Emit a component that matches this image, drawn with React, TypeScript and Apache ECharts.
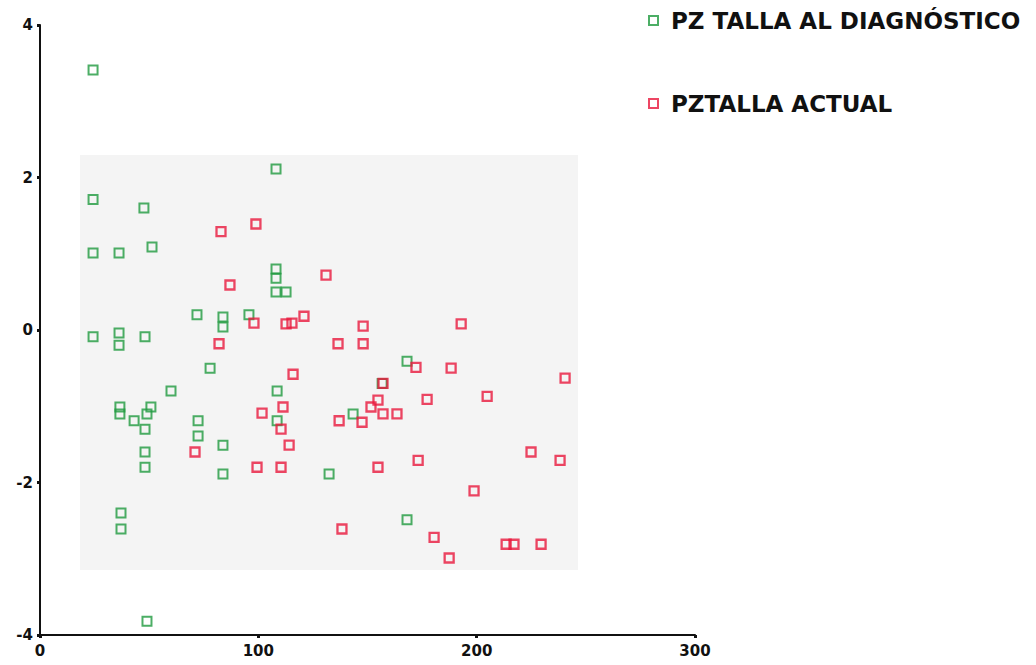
import React, { useEffect, useRef } from "react";
import * as echarts from "echarts";

const seriesNames = ["PZ TALLA AL DIAGNÓSTICO", "PZTALLA ACTUAL"];

const diagX = [24.3, 24.3, 24.3, 24.3, 36.2, 36.2, 36.2, 47.6, 51.3, 48.1, 36.6, 36.6, 43.1, 48.1, 49.0, 50.8, 48.1, 48.1, 37.1, 37.1, 49.0, 60.0, 71.9, 72.4, 72.4, 77.9, 83.8, 83.8, 83.8, 83.8, 95.7, 108.1, 108.1, 108.1, 108.1, 112.7, 108.6, 108.6, 143.4, 132.4, 156.7, 168.1, 168.1];
const diagY = [3.41, 1.71, 1.01, -0.09, 1.01, -0.04, -0.2, 1.6, 1.09, -0.09, -1.01, -1.1, -1.19, -1.3, -1.1, -1.01, -1.6, -1.8, -2.4, -2.61, -3.82, -0.8, 0.2, -1.19, -1.39, -0.5, 0.17, 0.04, -1.51, -1.89, 0.2, 2.11, 0.8, 0.68, 0.5, 0.5, -0.8, -1.19, -1.1, -1.89, -0.7, -0.41, -2.49];

const actualX = [82.9, 98.9, 87.0, 131.0, 120.9, 98.0, 112.7, 115.4, 82.0, 136.5, 148.0, 148.0, 115.9, 157.1, 154.8, 151.6, 157.1, 163.5, 101.7, 111.3, 110.4, 137.0, 147.5, 114.1, 192.9, 172.2, 188.3, 240.5, 177.3, 204.8, 154.8, 173.2, 224.9, 238.2, 198.8, 138.3, 180.5, 187.4, 213.5, 217.1, 229.5, 71.0, 99.4, 110.4];
const actualY = [1.29, 1.39, 0.59, 0.72, 0.18, 0.09, 0.08, 0.09, -0.18, -0.18, 0.05, -0.18, -0.58, -0.7, -0.92, -1.01, -1.1, -1.1, -1.09, -1.01, -1.3, -1.19, -1.21, -1.51, 0.08, -0.49, -0.5, -0.63, -0.91, -0.87, -1.8, -1.71, -1.6, -1.71, -2.11, -2.61, -2.72, -2.99, -2.81, -2.81, -2.81, -1.6, -1.8, -1.8];

const xTicks = [0, 100, 200, 300];
const yTicks = [-4, -2, 0, 2, 4];

const GREEN = "#1f9a3e";
const RED = "#e8183c";
const FONT = "'DejaVu Sans', 'Liberation Sans', Arial, sans-serif";

export default function App() {
  const ref = useRef<HTMLDivElement>(null);
  useEffect(() => {
    if (!ref.current) return;
    const chart = echarts.init(ref.current, null, { renderer: "svg" });
    const pair = (xs: number[], ys: number[]) => xs.map((x, i) => [x, ys[i]]);
    const axisLabel = { color: "#111", fontFamily: FONT, fontWeight: "bold" as const, fontSize: 15 };
    const legendText = {
      fontFamily: FONT,
      fontWeight: "bold" as const,
      fontSize: 23,
      color: "#111",
      padding: [5, 0, 0, 8],
    };
    chart.setOption({
      animation: false,
      backgroundColor: "#ffffff",
      graphic: [
        {
          type: "rect",
          z: -10,
          silent: true,
          shape: { x: 80, y: 155, width: 498, height: 415 },
          style: { fill: "#f4f4f4" },
        },
      ],
      grid: { left: 40, top: 25, right: 341, bottom: 30, containLabel: false },
      xAxis: {
        type: "value",
        min: xTicks[0],
        max: xTicks[xTicks.length - 1],
        interval: 100,
        splitLine: { show: false },
        axisLine: { show: true, onZero: false, lineStyle: { color: "#111", width: 2 } },
        axisTick: { show: true, length: 3, lineStyle: { color: "#111", width: 3 } },
        axisLabel: { ...axisLabel, margin: 8 },
      },
      yAxis: {
        type: "value",
        min: yTicks[0],
        max: yTicks[yTicks.length - 1],
        interval: 2,
        splitLine: { show: false },
        axisLine: { show: true, onZero: false, lineStyle: { color: "#111", width: 2 } },
        axisTick: { show: true, length: 3, lineStyle: { color: "#111", width: 3 } },
        axisLabel: { ...axisLabel, margin: 7 },
      },
      legend: [
        {
          data: [seriesNames[0]],
          left: 643,
          top: 4,
          itemWidth: 9,
          itemHeight: 9,
          textStyle: legendText,
        },
        {
          data: [seriesNames[1]],
          left: 643,
          top: 87,
          itemWidth: 9,
          itemHeight: 9,
          textStyle: legendText,
        },
      ],
      series: [
        {
          name: seriesNames[0],
          type: "scatter",
          symbol: "rect",
          symbolSize: 9,
          data: pair(diagX, diagY),
          itemStyle: { color: "rgba(255,255,255,0)", borderColor: GREEN, borderWidth: 2 },
        },
        {
          name: seriesNames[1],
          type: "scatter",
          symbol: "rect",
          symbolSize: 9,
          data: pair(actualX, actualY),
          itemStyle: { color: "rgba(255,255,255,0)", borderColor: RED, borderWidth: 2.3 },
        },
      ],
    });
    return () => chart.dispose();
  }, []);
  return (
    <div
      ref={ref}
      style={{ position: "absolute", left: 0, top: 0, width: 1036, height: 665 }}
    />
  );
}
